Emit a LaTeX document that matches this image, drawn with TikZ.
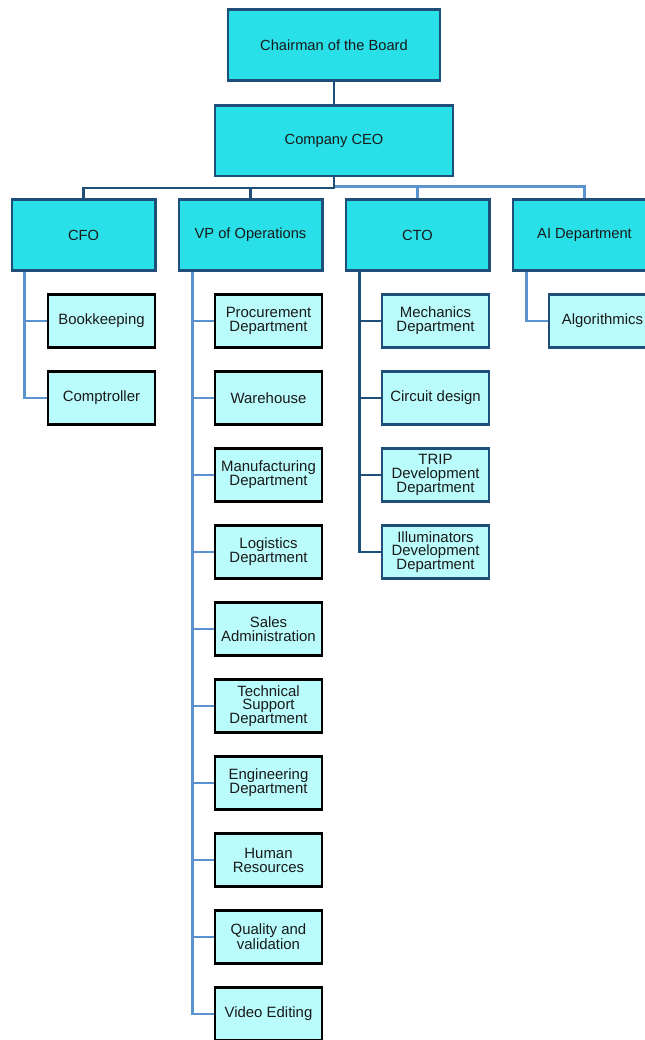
\documentclass[tikz,border=0pt]{standalone}
\usepackage{fontspec}
\setmainfont{Liberation Sans}
\usetikzlibrary{calc}
\definecolor{topfill}{RGB}{41,224,232}
\definecolor{subfill}{RGB}{186,252,252}
\definecolor{darkb}{RGB}{31,78,121}
\definecolor{lightb}{RGB}{91,147,206}
\definecolor{txt}{RGB}{25,25,25}
\begin{document}
\begin{tikzpicture}[x=0.75pt,y=-0.75pt,
  topbox/.style={draw=darkb,fill=topfill,line width=2pt,minimum width=#1,minimum height=53pt,inner sep=0pt,text=txt,font=\fontsize{11}{12}\selectfont,align=center},
  subbox/.style={draw=#1,fill=subfill,line width=1.9pt,minimum width=80.5pt,minimum height=39.5pt,inner sep=0pt,text=txt,font=\fontsize{11.2}{10.4}\selectfont,align=center},
  dk/.style={draw=darkb,line width=1.9pt},
  lt/.style={draw=lightb,line width=1.9pt}]
\useasboundingbox (0,0) rectangle (645,1040);
% top levels
\node[topbox=159pt] (chair) at (334,45) {Chairman of the Board};
\node[topbox=178.5pt] (ceo) at (334,140.5) {Company CEO};
\node[topbox=107.5pt] (cfo) at (83.5,235) {CFO};
\node[topbox=107.5pt] (vp) at (250.5,235) {VP of Operations};
\node[topbox=107.5pt] (cto) at (417.5,235) {CTO};
\node[topbox=107.5pt] (ai) at (584.5,235) {AI Department};
% CFO children
\node[subbox=black] (book) at (101.5,321) {Bookkeeping};
\node[subbox=black] (comp) at (101.5,398) {Comptroller};
% VP children
\node[subbox=black] (proc) at (268.5,321) {Procurement\\Department};
\node[subbox=black] (ware) at (268.5,398) {Warehouse};
\node[subbox=black] (manu) at (268.5,475) {Manufacturing\\Department};
\node[subbox=black] (logi) at (268.5,552) {Logistics\\Department};
\node[subbox=black] (sale) at (268.5,629) {Sales\\Administration};
\node[subbox=black] (tech) at (268.5,706) {Technical\\Support\\Department};
\node[subbox=black] (engi) at (268.5,783) {Engineering\\Department};
\node[subbox=black] (huma) at (268.5,860) {Human\\Resources};
\node[subbox=black] (qual) at (268.5,937) {Quality and\\validation};
\node[subbox=black] (vide) at (268.5,1014) {Video Editing};
% CTO children
\node[subbox=darkb] (mech) at (435.5,321) {Mechanics\\Department};
\node[subbox=darkb] (circ) at (435.5,398) {Circuit design};
\node[subbox=darkb] (trip) at (435.5,475) {TRIP\\Development\\Department};
\node[subbox=darkb] (illu) at (435.5,552) {Illuminators\\Development\\Department};
% AI children
\node[subbox=darkb] (algo) at (602.5,321) {Algorithmics};
% connectors
\draw[dk] (chair) -- (ceo);
\draw[lt] (ceo.south) -- ++(0,9.5) -| (ai.north);
\draw[lt] (ceo.south) -- ++(0,9.5) -| (cto.north);
\draw[dk] (ceo.south) -- ++(0,11) -| (vp.north);
\draw[dk] (ceo.south) -- ++(0,11) -| (cfo.north);
\draw[lt] ($(cfo.south west)+(14,0)$) |- (book.west);
\draw[lt] ($(cfo.south west)+(14,0)$) |- (comp.west);
\foreach \n in {proc,ware,manu,logi,sale,tech,engi,huma,qual,vide}
  \draw[lt] ($(vp.south west)+(15,0)$) |- (\n.west);
\foreach \n in {mech,circ,trip,illu}
  \draw[dk] ($(cto.south west)+(15,0)$) |- (\n.west);
\draw[lt] ($(ai.south west)+(15,0)$) |- (algo.west);
\end{tikzpicture}
\end{document}
